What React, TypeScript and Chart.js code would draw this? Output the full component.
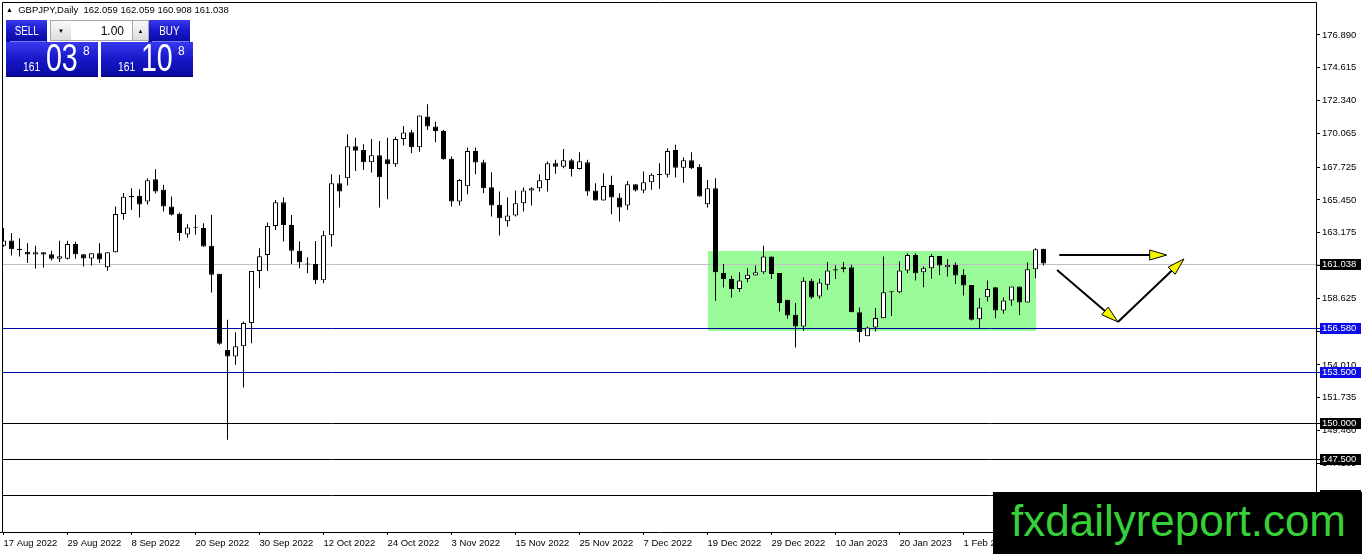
import React, { useEffect, useRef } from "react";
import { Chart, registerables } from "chart.js";

Chart.register(...registerables);

const symbolTitle = "GBPJPY,Daily";

const dateLabels = [
  "17 Aug 2022", "29 Aug 2022", "8 Sep 2022", "20 Sep 2022", "30 Sep 2022",
  "12 Oct 2022", "24 Oct 2022", "3 Nov 2022", "15 Nov 2022", "25 Nov 2022",
  "7 Dec 2022", "19 Dec 2022", "29 Dec 2022", "10 Jan 2023", "20 Jan 2023",
  "1 Feb 2023",
];
const barsPerLabel = 8;

const opens = [
  162.27, 162.64, 162.06, 161.86, 161.67, 161.83, 161.69, 161.37, 161.37, 162.39,
  161.69, 161.39, 161.76, 160.79, 161.83, 164.47, 165.74, 165.74, 165.34, 166.89,
  166.15, 165.0, 164.49, 163.06, 163.56, 163.5, 162.27, 160.33, 155.04, 154.6,
  155.31, 156.91, 160.53, 161.64, 163.65, 165.29, 163.72, 161.92, 161.0, 161.0,
  159.89, 163.0, 166.61, 166.96, 169.17, 168.92, 168.06, 168.55, 168.27, 167.93,
  169.68, 170.14, 169.1, 171.23, 170.54, 170.24, 168.3, 165.34, 166.4, 168.85,
  168.06, 166.33, 165.11, 163.98, 164.37, 165.22, 166.1, 166.26, 166.84, 167.99,
  167.76, 168.2, 167.6, 168.06, 166.1, 165.41, 166.49, 165.62, 165.06, 166.54,
  166.1, 166.68, 167.18, 167.19, 168.92, 167.69, 168.2, 167.76, 165.15, 166.27,
  160.38, 159.96, 159.27, 159.96, 160.21, 160.44, 161.53, 160.38, 158.53, 157.49,
  156.68, 159.84, 158.76, 159.57, 160.56, 160.65, 160.79, 157.67, 156.0, 156.61,
  157.25, 159.05, 159.05, 160.55, 161.64, 160.44, 160.72, 161.57, 160.79, 160.95,
  160.26, 159.56, 157.18, 158.71, 159.4, 157.78, 158.48, 159.45, 158.34, 160.65,
  162.059,
];
const highs = [
  163.5, 163.15, 162.8, 162.45, 162.27, 161.83, 161.92, 162.62, 162.62, 162.55,
  161.69, 161.76, 162.45, 161.83, 164.99, 165.94, 166.27, 166.2, 166.96, 167.58,
  166.5, 165.69, 164.58, 163.77, 164.42, 163.84, 164.42, 160.33, 157.14, 156.28,
  157.02, 160.53, 162.1, 163.88, 165.45, 165.62, 164.41, 162.57, 161.48, 162.61,
  163.31, 167.23, 167.19, 170.0, 169.77, 169.31, 169.68, 169.54, 169.77, 169.84,
  170.58, 170.3, 171.3, 172.08, 170.88, 170.3, 168.46, 166.91, 169.08, 169.08,
  168.23, 167.37, 166.03, 165.62, 166.1, 166.31, 166.33, 167.23, 168.11, 168.23,
  168.99, 168.3, 168.76, 168.23, 166.61, 167.3, 167.12, 165.92, 166.77, 166.54,
  167.42, 167.3, 168.0, 169.03, 169.27, 168.39, 168.76, 167.93, 166.84, 166.96,
  161.0, 160.19, 160.44, 160.72, 160.91, 162.27, 161.53, 160.38, 158.53, 158.3,
  160.07, 159.98, 159.98, 161.14, 160.91, 161.14, 160.95, 157.99, 156.68, 157.95,
  161.53, 159.1, 161.18, 161.76, 161.76, 160.83, 161.71, 161.57, 161.34, 161.11,
  160.65, 159.56, 158.64, 159.86, 159.4, 158.71, 159.45, 159.45, 161.11, 162.1,
  162.059,
];
const lows = [
  162.2, 161.6, 161.53, 161.07, 160.7, 160.77, 161.25, 161.14, 161.32, 161.37,
  160.84, 160.91, 161.07, 160.54, 161.8, 164.07, 164.76, 164.23, 165.14, 165.9,
  164.65, 164.37, 162.62, 162.83, 163.03, 162.18, 159.04, 155.4, 148.82, 154.02,
  152.45, 155.52, 159.33, 160.53, 163.37, 162.57, 161.0, 160.72, 160.37, 159.63,
  159.68, 162.22, 164.92, 166.45, 167.46, 167.53, 167.35, 164.92, 165.5, 167.76,
  169.22, 168.69, 168.8, 170.3, 169.45, 168.23, 164.99, 165.06, 165.85, 167.23,
  165.92, 164.3, 162.98, 163.61, 164.3, 164.65, 165.06, 166.03, 166.03, 167.26,
  167.65, 167.07, 167.56, 165.75, 165.41, 165.41, 164.46, 163.95, 164.76, 166.03,
  165.92, 166.15, 166.22, 167.0, 167.0, 166.65, 167.6, 165.69, 164.92, 158.46,
  159.38, 158.69, 159.06, 159.75, 160.21, 160.31, 159.96, 157.72, 157.21, 155.22,
  156.38, 158.6, 158.6, 159.22, 159.96, 160.44, 157.67, 155.59, 155.99, 156.33,
  157.25, 157.41, 158.98, 160.37, 159.86, 159.4, 159.98, 160.25, 160.14, 159.63,
  158.82, 157.09, 156.56, 158.41, 157.25, 157.55, 158.11, 157.48, 158.34, 160.02,
  160.908,
];
const closes = [
  162.64, 162.04, 161.97, 161.67, 161.83, 161.67, 161.37, 161.55, 162.39, 161.69,
  161.39, 161.76, 161.32, 161.83, 164.47, 165.67, 165.64, 165.14, 166.82, 166.04,
  165.0, 164.42, 163.15, 163.54, 163.52, 162.23, 160.26, 155.47, 154.6, 155.31,
  156.91, 160.53, 161.55, 163.65, 165.29, 163.72, 161.92, 161.13, 160.97, 159.89,
  163.0, 166.61, 166.03, 169.17, 168.87, 168.06, 168.55, 167.02, 167.93, 169.68,
  170.12, 169.1, 171.3, 170.54, 170.24, 168.27, 165.34, 166.84, 168.85, 168.04,
  166.26, 165.06, 164.18, 164.37, 165.22, 166.1, 166.26, 166.82, 167.99, 167.76,
  168.2, 167.6, 168.13, 166.03, 165.41, 166.42, 165.62, 164.92, 166.54, 166.1,
  166.68, 167.19, 167.21, 168.85, 167.69, 168.2, 167.65, 165.69, 166.26, 160.44,
  159.96, 159.27, 159.87, 160.26, 160.44, 161.53, 160.31, 158.3, 157.44, 156.68,
  159.84, 158.69, 159.73, 160.56, 160.65, 160.79, 157.67, 156.29, 156.61, 157.26,
  159.05, 159.1, 160.55, 161.64, 160.37, 160.72, 161.57, 160.9, 160.95, 160.21,
  159.52, 157.14, 157.99, 159.28, 157.78, 158.48, 159.45, 158.34, 160.65, 162.03,
  161.038,
];

const priceTicks = [
  176.89, 174.615, 172.34, 170.065, 167.725, 165.45, 163.175, 160.9,
  158.625, 156.35, 154.01, 151.735, 149.46, 147.185, 144.91,
];
const blueLevels = [156.58, 153.5];
const blackLevels = [150.0, 147.5, 145.0];
const rangeBox = { fromBar: 88, toBar: 129, high: 161.91, low: 156.36 };
const flatArrow = [
  { bar: 131.97, price: 161.63 },
  { bar: 145.4, price: 161.63 },
];
const dipArrow = [
  { bar: 131.7, price: 160.59 },
  { bar: 139.3, price: 156.99 },
  { bar: 147.56, price: 161.36 },
];
const lotSize = "1.00";
const sellQuote = { big: "161", pips: "03", point: "8" };
const buyQuote = { big: "161", pips: "10", point: "8" };

const X_MIN = -0.1875;
const X_MAX = 164.0625;
const Y_MIN = 142.423;
const Y_MAX = 179.178;

const FONT = "'Liberation Sans', Arial, sans-serif";
const lastIdx = closes.length - 1;
const bidPrice = closes[lastIdx];

function drawArrow(ctx: CanvasRenderingContext2D, x0: number, y0: number, x1: number, y1: number) {
  const ang = Math.atan2(y1 - y0, x1 - x0);
  const L = 17;
  const W = 5;
  const bx = x1 - L * Math.cos(ang);
  const by = y1 - L * Math.sin(ang);
  ctx.strokeStyle = "#000";
  ctx.lineWidth = 2;
  ctx.beginPath();
  ctx.moveTo(x0, y0);
  ctx.lineTo(bx, by);
  ctx.stroke();
  ctx.beginPath();
  ctx.moveTo(x1, y1);
  ctx.lineTo(bx + W * Math.sin(ang), by - W * Math.cos(ang));
  ctx.lineTo(bx - W * Math.sin(ang), by + W * Math.cos(ang));
  ctx.closePath();
  ctx.fillStyle = "#f5f500";
  ctx.fill();
  ctx.lineWidth = 1;
  ctx.stroke();
}

const overlayPlugin = {
  id: "mtOverlay",
  beforeDatasetsDraw(chart: any) {
    const { ctx, chartArea: a, scales } = chart;
    const x = scales.x;
    const y = scales.y;
    ctx.save();
    ctx.beginPath();
    ctx.rect(a.left, a.top, a.right - a.left, a.bottom - a.top);
    ctx.clip();
    const bx0 = x.getPixelForValue(rangeBox.fromBar);
    const bx1 = x.getPixelForValue(rangeBox.toBar);
    const by0 = y.getPixelForValue(rangeBox.high);
    const by1 = y.getPixelForValue(rangeBox.low);
    ctx.fillStyle = "#98fb98";
    ctx.fillRect(Math.round(bx0), Math.round(by0), Math.round(bx1 - bx0), Math.round(by1 - by0));
    ctx.restore();

    const hline = (v: number, color: string) => {
      const py = Math.round(y.getPixelForValue(v)) + 0.5;
      ctx.save();
      ctx.strokeStyle = color;
      ctx.lineWidth = 1;
      ctx.beginPath();
      ctx.moveTo(a.left, py);
      ctx.lineTo(a.right + 4, py);
      ctx.stroke();
      ctx.restore();
    };
    hline(bidPrice, "#c0c0c0");
    blueLevels.forEach((v) => hline(v, "#0000a8"));
    blackLevels.forEach((v) => hline(v, "#000000"));
  },
  afterDatasetsDraw(chart: any) {
    const { ctx, scales } = chart;
    const x = scales.x;
    const y = scales.y;
    const px = (p: { bar: number; price: number }) => [x.getPixelForValue(p.bar), y.getPixelForValue(p.price)];
    ctx.save();
    const [a0x, a0y] = px(flatArrow[0]);
    const [a1x, a1y] = px(flatArrow[1]);
    drawArrow(ctx, a0x, a0y, a1x, a1y);
    for (let i = 0; i < dipArrow.length - 1; i++) {
      const [sx, sy] = px(dipArrow[i]);
      const [ex, ey] = px(dipArrow[i + 1]);
      drawArrow(ctx, sx, sy, ex, ey);
    }
    ctx.restore();
  },
  afterDraw(chart: any) {
    const { ctx, chartArea: a, scales } = chart;
    const y = scales.y;
    ctx.save();
    ctx.strokeStyle = "#000";
    ctx.lineWidth = 1;
    ctx.beginPath();
    ctx.moveTo(a.left + 0.5, a.top + 0.5);
    ctx.lineTo(a.right + 0.5, a.top + 0.5);
    ctx.lineTo(a.right + 0.5, a.bottom + 0.5);
    ctx.lineTo(a.left + 0.5, a.bottom + 0.5);
    ctx.closePath();
    ctx.stroke();
    ctx.beginPath();
    ctx.moveTo(0, a.bottom + 0.5);
    ctx.lineTo(a.left, a.bottom + 0.5);
    ctx.stroke();

    const tag = (v: number, bg: string) => {
      const py = Math.round(y.getPixelForValue(v));
      ctx.fillStyle = bg;
      ctx.fillRect(a.right + 4, py - 5, 41, 11);
      ctx.fillStyle = "#fff";
      ctx.font = `9.5px ${FONT}`;
      ctx.textBaseline = "middle";
      ctx.textAlign = "left";
      ctx.fillText(v.toFixed(3), a.right + 6, py + 0.5);
    };
    tag(bidPrice, "#000000");
    blueLevels.forEach((v) => tag(v, "#0c0ce8"));
    blackLevels.forEach((v) => tag(v, "#000000"));
    ctx.restore();
  },
};

const blueGrad = "linear-gradient(180deg, #3838ee 0%, #1818c8 50%, #0a0aa0 100%)";
const greyGrad = "linear-gradient(180deg, #fafafa 0%, #dcdcdc 100%)";

function QuoteBox({ left, quote }: { left: number; quote: { big: string; pips: string; point: string } }) {
  return (
    <div
      style={{
        position: "absolute",
        left,
        top: 42,
        width: 92,
        height: 34,
        background: blueGrad,
        borderBottom: "1px solid #000060",
        color: "#fff",
        fontFamily: FONT,
        overflow: "hidden",
      }}
    >
      <span style={{ position: "absolute", left: 17, top: 19, fontSize: 12.5, lineHeight: "12.5px", transform: "scaleX(0.82)", transformOrigin: "left" }}>
        {quote.big}
      </span>
      <span style={{ position: "absolute", left: 40, top: -3, fontSize: 38, lineHeight: "38px", transform: "scaleX(0.75)", transformOrigin: "left" }}>
        {quote.pips}
      </span>
      <span style={{ position: "absolute", left: 77, top: 3, fontSize: 12, lineHeight: "12px" }}>{quote.point}</span>
    </div>
  );
}

function TradeLabel({ left, width, text }: { left: number; width: number; text: string }) {
  return (
    <div
      style={{
        position: "absolute",
        left,
        top: 20,
        width,
        height: 22,
        background: blueGrad,
        color: "#fff",
        fontFamily: FONT,
        fontSize: 12,
        display: "flex",
        alignItems: "center",
        justifyContent: "center",
      }}
    >
      <span style={{ display: "inline-block", transform: "scaleX(0.82)" }}>{text}</span>
      <div style={{ position: "absolute", left: 4, right: 1, bottom: 0, height: 1, background: "#7a7aff" }} />
    </div>
  );
}

export default function App() {
  const canvasRef = useRef<HTMLCanvasElement | null>(null);

  useEffect(() => {
    document.body.style.margin = "0";
    const canvas = canvasRef.current;
    if (!canvas) return;
    Chart.defaults.font.family = FONT;

    const bodyData = opens.map((o, i) => ({ x: i, y: [o, closes[i]] }));
    const wickData = lows.map((l, i) => ({ x: i, y: [l, highs[i]] }));
    const bodyColors = opens.map((o, i) => (closes[i] >= o ? "#ffffff" : "#000000"));

    const chart = new Chart(canvas, {
      type: "bar",
      data: {
        datasets: [
          {
            label: "body",
            data: bodyData as any,
            backgroundColor: bodyColors,
            borderColor: "#000000",
            borderWidth: 1,
            borderSkipped: false,
            barThickness: 5,
            minBarLength: 1,
            grouped: false,
            inflateAmount: 0,
            order: 0,
          } as any,
          {
            label: "wick",
            data: wickData as any,
            backgroundColor: "#000000",
            borderWidth: 0,
            barThickness: 1,
            grouped: false,
            inflateAmount: 0,
            order: 1,
          } as any,
        ],
      },
      options: {
        responsive: false,
        animation: false,
        events: [],
        devicePixelRatio: 1,
        layout: { padding: { left: 2, top: 2, right: 0, bottom: 0 } },
        plugins: { legend: { display: false }, tooltip: { enabled: false }, title: { display: false } },
        scales: {
          x: {
            type: "linear",
            min: X_MIN,
            max: X_MAX,
            offset: false,
            position: "bottom",
            afterBuildTicks: (scale: any) => {
              scale.ticks = dateLabels.map((_, k) => ({ value: k * barsPerLabel }));
            },
            afterFit: (scale: any) => {
              scale.height = 22;
              scale.paddingLeft = 0;
              scale.paddingRight = 0;
            },
            ticks: {
              autoSkip: false,
              maxRotation: 0,
              minRotation: 0,
              align: "start",
              padding: 3,
              color: "#000",
              font: { size: 9.5, family: FONT },
              callback: (_v: any, index: number) => dateLabels[index],
            },
            grid: { display: true, drawOnChartArea: false, drawTicks: true, tickLength: 3, color: "#000", offset: false },
            border: { display: false },
          } as any,
          y: {
            type: "linear",
            position: "right",
            min: Y_MIN,
            max: Y_MAX,
            afterBuildTicks: (scale: any) => {
              scale.ticks = priceTicks.map((v) => ({ value: v }));
            },
            afterFit: (scale: any) => {
              scale.width = 46;
              scale.paddingTop = 0;
              scale.paddingBottom = 0;
            },
            ticks: {
              autoSkip: false,
              padding: 2,
              color: "#000",
              font: { size: 9.5, family: FONT },
              callback: (v: any) => Number(v).toFixed(3),
            },
            grid: { display: true, drawOnChartArea: false, drawTicks: true, tickLength: 4, color: "#000" },
            border: { display: false },
          } as any,
        },
      },
      plugins: [overlayPlugin],
    });

    return () => chart.destroy();
  }, []);

  const ohlc = [opens[lastIdx], highs[lastIdx], lows[lastIdx], closes[lastIdx]].map((v) => v.toFixed(3)).join(" ");

  return (
    <div style={{ position: "relative", width: 1362, height: 554, overflow: "hidden", background: "#fff" }}>
      <canvas ref={canvasRef} width={1362} height={554} style={{ display: "block", width: 1362, height: 554 }} />

      <div
        style={{
          position: "absolute",
          left: 6,
          top: 4,
          fontFamily: FONT,
          fontSize: 9.5,
          lineHeight: "11px",
          color: "#000",
          whiteSpace: "pre",
        }}
      >
        <span style={{ fontSize: 7, position: "relative", top: -1 }}>▲</span>
        {`  ${symbolTitle}  ${ohlc}`}
      </div>

      <TradeLabel left={6} width={41} text="SELL" />
      <TradeLabel left={148} width={42} text="BUY" />

      <div style={{ position: "absolute", left: 50, top: 20, width: 20, height: 19, background: greyGrad, border: "1px solid #a8a8a8", display: "flex", alignItems: "center", justifyContent: "center", fontSize: 6, color: "#000", fontFamily: FONT }}>▼</div>
      <div style={{ position: "absolute", left: 71, top: 20, width: 61, height: 19, background: "#fff", borderTop: "1px solid #a8a8a8", borderBottom: "1px solid #a8a8a8", fontFamily: FONT, fontSize: 12, lineHeight: "19px", textAlign: "right", color: "#000" }}>
        <span style={{ position: "absolute", right: 8, top: 1 }}>{lotSize}</span>
      </div>
      <div style={{ position: "absolute", left: 132, top: 20, width: 15, height: 19, background: greyGrad, border: "1px solid #a8a8a8", display: "flex", alignItems: "center", justifyContent: "center", fontSize: 6, color: "#000", fontFamily: FONT }}>▲</div>

      <QuoteBox left={6} quote={sellQuote} />
      <QuoteBox left={101} quote={buyQuote} />

      <div style={{ position: "absolute", left: 993, top: 492, width: 369, height: 62, background: "#000" }}>
        <span
          style={{
            position: "absolute",
            left: 18,
            top: 7,
            fontFamily: FONT,
            fontSize: 44,
            lineHeight: "44px",
            color: "#38d038",
            whiteSpace: "nowrap",
          }}
        >
          fxdailyreport.com
        </span>
      </div>
    </div>
  );
}
